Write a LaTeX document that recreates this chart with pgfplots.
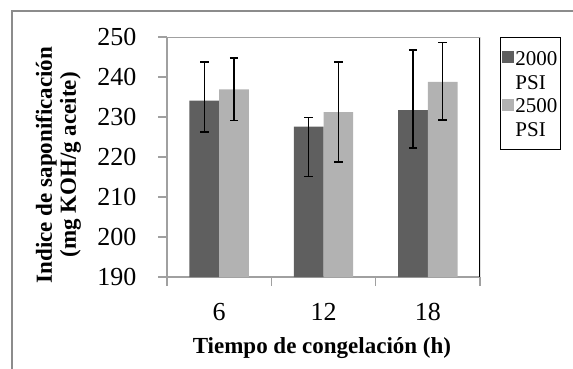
\documentclass[border=0pt]{standalone}
\usepackage{pgfplots}
\pgfplotsset{compat=1.18}
\usepackage{pgfplotstable}
\usepackage{fontspec}
\setmainfont{Liberation Serif}
\definecolor{darkbar}{HTML}{5F5F5F}
\definecolor{lightbar}{HTML}{B2B2B2}
\definecolor{axgray}{HTML}{A0A0A0}
\definecolor{framegray}{HTML}{8C8C8C}
\pgfplotstableread{
x y ep em
0 234.1 9.7 7.8
1 227.6 2.3 12.5
2 231.7 15.0 9.5
}\dataA
\pgfplotstableread{
x y ep em
0 236.9 7.8 7.8
1 231.2 12.6 12.5
2 238.8 9.8 9.5
}\dataB
\begin{document}
\begin{tikzpicture}
\path[use as bounding box] (0,0) rectangle (573bp,-369bp);
\draw[framegray, line width=1.4bp] (12bp,-375bp) -- (12bp,-11bp) -- (580bp,-11bp);
\begin{axis}[
  at={(167bp,-277bp)}, anchor=south west,
  scale only axis, width=313bp, height=240bp,
  ymin=190, ymax=250, ytick={190,200,...,250},
  xmin=-0.5, xmax=2.5,
  xtick={0,1,2}, xticklabels={6,12,18},
  extra x ticks={-0.5,0.5,1.5,2.5},
  extra x tick labels={},
  extra x tick style={xtick style={draw=axgray, line width=1.2bp}},
  xtick style={draw=none},
  ytick style={draw=axgray, line width=1.2bp},
  tick align=outside, major tick length=9bp,
  axis line style={draw=axgray, line width=1.2bp},
  axis x line*=bottom, axis y line*=left,
  ybar, bar width=29.7bp,
  /pgf/number format/assume math mode=true,
  ticklabel style={font=\fontsize{26bp}{30bp}\selectfont},
  xticklabel style={anchor=base, yshift=-34bp},
  yticklabel style={anchor=east, xshift=-18bp},
  xlabel={\textbf{Tiempo de congelación (h)}},
  ylabel={\textbf{Indice de saponificación}\\\textbf{(mg KOH/g aceite)}},
  label style={font=\fontsize{23bp}{24bp}\selectfont},
  xlabel style={at={(axis description cs:0.495,-0.296)}, anchor=center},
  ylabel style={at={(axis description cs:-0.347,0.467)}, anchor=center, align=center},
  legend style={at={(axis description cs:1.064,1.0)}, anchor=north west,
    draw=black, line width=0.8bp, font=\fontsize{21bp}{22bp}\selectfont,
    inner xsep=2bp, inner ysep=9bp, row sep=0.75bp,
    nodes={inner xsep=1bp, inner ysep=0bp, text height=19bp, text depth=4bp},
    cells={anchor=base west}},
  legend image code/.code={\fill[#1] (0bp,2bp) rectangle (12bp,14bp);},
  error bars/y dir=both, error bars/y explicit,
  error bars/error bar style={line width=1.6bp, black},
  error bars/error mark options={rotate=90, mark size=4.2bp, line width=1.6bp, black},
]
\addplot[fill=darkbar, draw=none, bar shift=-14.85bp] table[x=x, y=y, y error plus=ep, y error minus=em] {\dataA};
\addlegendentry{2000}
\addlegendimage{empty legend}
\addlegendentry{PSI}
\addplot[fill=lightbar, draw=none, bar shift=14.85bp] table[x=x, y=y, y error plus=ep, y error minus=em] {\dataB};
\addlegendentry{2500}
\addlegendimage{empty legend}
\addlegendentry{PSI}
\draw[black, line width=1.2bp] (rel axis cs:1,0) -- (rel axis cs:1,1);
\draw[axgray, line width=1.2bp] (rel axis cs:0,1) -- (rel axis cs:1,1);
\end{axis}
\end{tikzpicture}
\end{document}
